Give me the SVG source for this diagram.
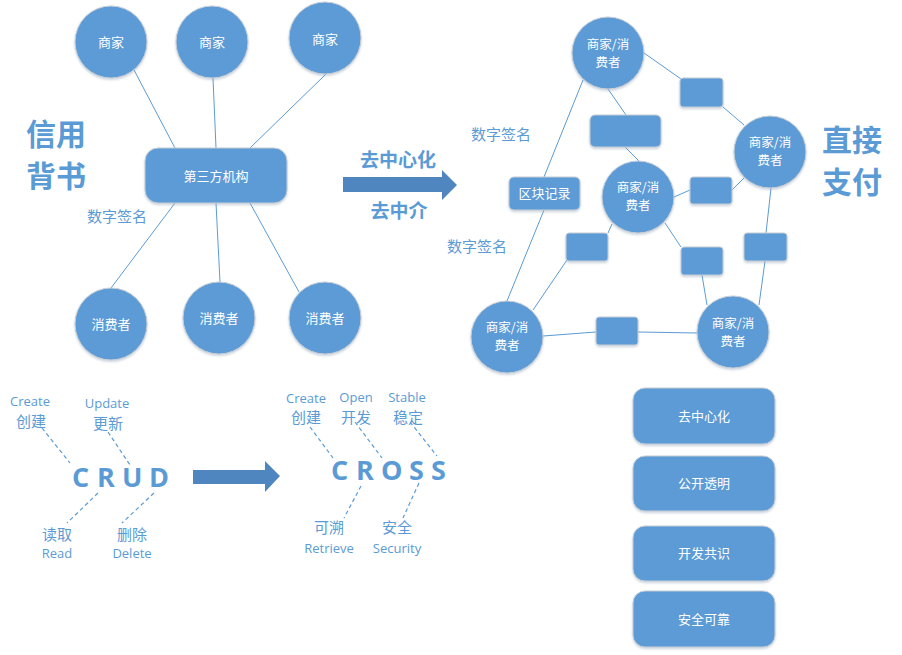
<svg xmlns="http://www.w3.org/2000/svg" width="902" height="655" viewBox="0 0 902 655">
<defs>
<filter id="sh" x="-20%" y="-20%" width="140%" height="140%">
<feDropShadow dx="0" dy="1.5" stdDeviation="1.2" flood-color="#8a9bb0" flood-opacity="0.45"/>
</filter>
</defs>
<style>
.n{fill:#5b9bd5;stroke:#c8ced6;stroke-width:1;filter:url(#sh)}
.t{fill:#ffffff;font-family:"Noto Sans CJK SC","Noto Sans",sans-serif;font-size:13px;text-anchor:middle}
.t2{fill:#ffffff;font-family:"Noto Sans CJK SC","Noto Sans",sans-serif;font-size:12.5px;text-anchor:middle}
.c{stroke:#5b9bd5;stroke-width:1;fill:none}
.d{stroke:#5b9bd5;stroke-width:1.2;fill:none;stroke-dasharray:4 3}
.lab{fill:#5b9bd5;font-family:"Noto Sans CJK SC","Noto Sans",sans-serif;font-size:15px}
.big{fill:#5b9bd5;font-family:"Noto Sans CJK SC",sans-serif;font-size:30px;font-weight:bold}
.mid{fill:#5b9bd5;font-family:"Noto Sans CJK SC",sans-serif;font-size:19px;font-weight:bold;text-anchor:middle}
.en{fill:#5b9bd5;font-family:"Open Sans","Noto Sans",sans-serif;font-size:13px;text-anchor:middle}
.cn{fill:#5b9bd5;font-family:"Noto Sans CJK SC",sans-serif;font-size:15px;text-anchor:middle}
.acr{fill:#5b9bd5;font-family:"Open Sans","Noto Sans",sans-serif;font-size:27px;font-weight:bold}
.arr{fill:#4f86c0}
</style>
<rect width="902" height="655" fill="#ffffff"/>

<g id="connectors">
<line class="c" x1="134" y1="70" x2="175" y2="148"/>
<line class="c" x1="213" y1="78" x2="216" y2="148"/>
<line class="c" x1="326" y1="74" x2="250" y2="148"/>
<line class="c" x1="175" y1="203" x2="111" y2="288"/>
<line class="c" x1="216" y1="203" x2="220" y2="282"/>
<line class="c" x1="250" y1="203" x2="299" y2="292"/>

<line class="c" x1="644" y1="53" x2="681" y2="79"/>
<line class="c" x1="723" y1="107" x2="744" y2="125"/>
<line class="c" x1="608" y1="89" x2="626" y2="115"/>
<line class="c" x1="625" y1="147" x2="639" y2="161"/>
<line class="c" x1="583" y1="80" x2="544" y2="177"/>
<line class="c" x1="544" y1="210" x2="507" y2="301"/>
<line class="c" x1="674" y1="197" x2="690" y2="190"/>
<line class="c" x1="732" y1="190" x2="744" y2="178"/>
<line class="c" x1="612" y1="224" x2="608" y2="233"/>
<line class="c" x1="567" y1="260" x2="533" y2="310"/>
<line class="c" x1="665" y1="223" x2="681" y2="247"/>
<line class="c" x1="702" y1="275" x2="707" y2="305"/>
<line class="c" x1="771" y1="188" x2="766" y2="233"/>
<line class="c" x1="765" y1="261" x2="759" y2="305"/>
<line class="c" x1="543" y1="336" x2="596" y2="332"/>
<line class="c" x1="638" y1="332" x2="697" y2="333"/>

<line class="d" x1="42" y1="428" x2="70" y2="463"/>
<line class="d" x1="108" y1="432" x2="130" y2="465"/>
<line class="d" x1="98" y1="493" x2="67" y2="523"/>
<line class="d" x1="154" y1="493" x2="122" y2="523"/>

<line class="d" x1="310" y1="427" x2="333" y2="458"/>
<line class="d" x1="355" y1="422" x2="382" y2="458"/>
<line class="d" x1="410" y1="422" x2="437" y2="456"/>
<line class="d" x1="361" y1="486" x2="344" y2="518"/>
<line class="d" x1="419" y1="483" x2="403" y2="518"/>
</g>

<g id="m1"><circle class="n" cx="111" cy="42" r="36"/><text class="t" x="111" y="47">商家</text></g>
<g id="m2"><circle class="n" cx="212" cy="42" r="36"/><text class="t" x="212" y="47">商家</text></g>
<g id="m3"><circle class="n" cx="325" cy="38" r="36"/><text class="t" x="325" y="44">商家</text></g>
<g id="third"><rect class="n" x="145" y="148" width="142" height="55" rx="13"/><text class="t" x="216" y="181">第三方机构</text></g>
<g id="c1"><circle class="n" cx="111" cy="324" r="36"/><text class="t" x="111" y="329">消费者</text></g>
<g id="c2"><circle class="n" cx="219" cy="318" r="36"/><text class="t" x="219" y="323">消费者</text></g>
<g id="c3"><circle class="n" cx="325" cy="318" r="36"/><text class="t" x="325" y="323">消费者</text></g>

<g id="label-left">
<text class="big" x="26" y="145">信用</text>
<text class="big" x="26" y="187">背书</text>
<text class="lab" x="87" y="222">数字签名</text>
</g>

<g id="arrow-main">
<path class="arr" d="M343,177 L442,177 L442,170 L457,185 L442,200 L442,192 L343,192 Z"/>
<text class="mid" x="398" y="167">去中心化</text>
<text class="mid" x="399" y="218">去中介</text>
</g>

<g id="p1"><circle class="n" cx="608" cy="53" r="36"/><text class="t2" x="608" y="49">商家/消</text><text class="t2" x="608" y="67">费者</text></g>
<g id="p2"><circle class="n" cx="770" cy="152" r="36"/><text class="t2" x="770" y="147">商家/消</text><text class="t2" x="770" y="165">费者</text></g>
<g id="p3"><circle class="n" cx="638" cy="197" r="36"/><text class="t2" x="638" y="192">商家/消</text><text class="t2" x="638" y="210">费者</text></g>
<g id="p4"><circle class="n" cx="507" cy="337" r="36"/><text class="t2" x="507" y="332">商家/消</text><text class="t2" x="507" y="350">费者</text></g>
<g id="p5"><circle class="n" cx="733" cy="332" r="36"/><text class="t2" x="733" y="328">商家/消</text><text class="t2" x="733" y="346">费者</text></g>

<g id="r1"><rect class="n" x="680" y="78" width="43" height="29" rx="3"/></g>
<g id="r2"><rect class="n" x="590" y="115" width="71" height="32" rx="5"/></g>
<g id="block"><rect class="n" x="509" y="177" width="71" height="33" rx="5"/><text class="t" x="544.5" y="198">区块记录</text></g>
<g id="r3"><rect class="n" x="690" y="177" width="42" height="27" rx="3"/></g>
<g id="r4"><rect class="n" x="566" y="233" width="42" height="28" rx="3"/></g>
<g id="r5"><rect class="n" x="681" y="247" width="42" height="28" rx="3"/></g>
<g id="r6"><rect class="n" x="744" y="233" width="43" height="28" rx="3"/></g>
<g id="r7"><rect class="n" x="596" y="317" width="42" height="28" rx="3"/></g>

<g id="label-right">
<text class="lab" x="471" y="140">数字签名</text>
<text class="lab" x="447" y="252">数字签名</text>
<text class="big" x="822" y="151">直接</text>
<text class="big" x="822" y="193">支付</text>
</g>

<g id="f1"><rect class="n" x="633" y="388" width="142" height="56" rx="12"/><text class="t" x="704" y="421">去中心化</text></g>
<g id="f2"><rect class="n" x="633" y="456" width="142" height="55" rx="12"/><text class="t" x="704" y="488">公开透明</text></g>
<g id="f3"><rect class="n" x="633" y="526" width="142" height="55" rx="12"/><text class="t" x="704" y="558">开发共识</text></g>
<g id="f4"><rect class="n" x="633" y="591" width="142" height="56" rx="12"/><text class="t" x="704" y="624">安全可靠</text></g>

<g id="crud">
<text class="en" x="30" y="406">Create</text>
<text class="cn" x="31" y="427">创建</text>
<text class="en" x="107" y="408">Update</text>
<text class="cn" x="108" y="429">更新</text>
<text class="acr" x="72 97 122 149" y="487">CRUD</text>
<text class="cn" x="57" y="540">读取</text>
<text class="en" x="57" y="558">Read</text>
<text class="cn" x="132" y="540">删除</text>
<text class="en" x="132" y="558">Delete</text>
</g>

<g id="arrow-crud">
<path class="arr" d="M193,470 L265,470 L265,461 L280,476 L265,492 L265,484 L193,484 Z"/>
</g>

<g id="cross">
<text class="en" x="306" y="403">Create</text>
<text class="cn" x="306" y="423">创建</text>
<text class="en" x="356" y="402">Open</text>
<text class="cn" x="356" y="423">开发</text>
<text class="en" x="407" y="402">Stable</text>
<text class="cn" x="408" y="423">稳定</text>
<text class="acr" x="331 356 381 409 431" y="480">CROSS</text>
<text class="cn" x="329" y="533">可溯</text>
<text class="en" x="329" y="553">Retrieve</text>
<text class="cn" x="397" y="533">安全</text>
<text class="en" x="397" y="553">Security</text>
</g>
</svg>
